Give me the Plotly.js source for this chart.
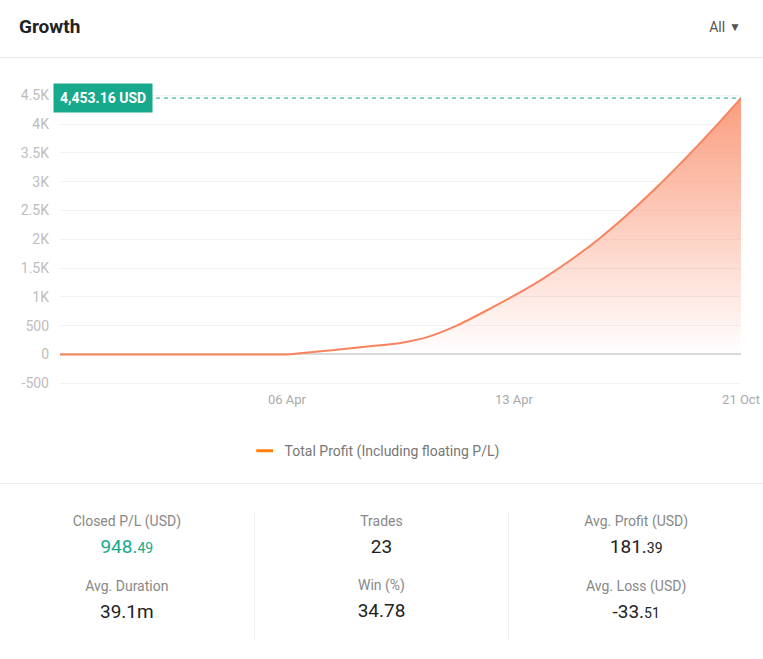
<!DOCTYPE html>
<html>
<head>
<meta charset="utf-8">
<script src="https://cdn.plot.ly/plotly-3.0.1.min.js"></script>
<style>
  body { margin: 0; background: #fff; font-family: Roboto, "Noto Sans", sans-serif; }
  .wrap { width: 763px; height: 659px; position: relative; overflow: hidden; }
  .head { height: 57px; border-bottom: 1px solid #e8e8e8; position: relative; }
  .head h1 { margin: 0; position: absolute; left: 19px; top: 15px; font-size: 19px; font-weight: 700; color: #222; }
  .head .sel { position: absolute; right: 22px; top: 19px; font-size: 14px; color: #555; }
  .head .sel span { font-size: 12px; margin-left: 4px; position: relative; top: -1px; }
  #chart { width: 763px; height: 425px; }
  .stats { border-top: 1px solid #eeeeee; display: flex; padding-top: 28px; }
  .col { width: 254px; text-align: center; border-right: 1px solid #efefef; height: 128px; }
  .col:last-child { border-right: none; }
  .lbl { font-size: 14px; color: #888; line-height: 18px; }
  .val { font-size: 19px; color: #222; line-height: 24px; margin-top: 5px; margin-bottom: 17px; }
  .val small { font-size: 14px; }
  .green { color: #17a98b; }
</style>
</head>
<body>
<div class="wrap">
  <div class="head"><h1>Growth</h1><div class="sel">All<span>&#9660;</span></div></div>
  <div id="chart"></div>
  <div class="stats" id="stats"></div>
</div>
<script>
// one point per step along the x axis, labels shown only at some steps
const pointIdx = [0, 1, 2, 3, 4, 5, 6, 7, 8, 9, 10, 11, 12, 13, 14, 15, 16, 17, 18, 19, 20, 21, 22, 23, 24];
const totalProfit = [0, 0, 0, 0, 0, 0, 0, 0, 0, 45, 95, 145, 200, 310, 505, 755, 1020, 1310, 1640, 2010, 2430, 2890, 3385, 3905, 4453.16];
const xTickVals = [8, 16, 24];
const xTickText = ['06 Apr', '13 Apr', '21 Oct'];
const yTickVals = [-500, 0, 500, 1000, 1500, 2000, 2500, 3000, 3500, 4000, 4500];
const yTickText = ['-500', '0', '500', '1K', '1.5K', '2K', '2.5K', '3K', '3.5K', '4K', '4.5K'];
const seriesName = 'Total Profit (Including floating P/L)';

const statLabels = [['Closed P/L (USD)', 'Avg. Duration'], ['Trades', 'Win (%)'], ['Avg. Profit (USD)', 'Avg. Loss (USD)']];
const statValues = [['948.49', '39.1m'], ['23', '34.78'], ['181.39', '-33.51']];
const smallDecimals = [[true, false], [false, false], [true, true]];

const orange = '#f7845e';
const teal = '#17a98b';
const lastVal = totalProfit[totalProfit.length - 1];
const lastIdx = pointIdx[pointIdx.length - 1];

function fmtMoney(v) {
  return v.toLocaleString('en-US', { minimumFractionDigits: 2, maximumFractionDigits: 2 });
}

var trace1 = {
  x: pointIdx,
  y: totalProfit,
  mode: 'lines',
  type: 'scatter',
  line: { color: orange, width: 2, shape: 'spline', smoothing: 0.6 },
  fill: 'tozeroy',
  fillgradient: {
    type: 'vertical',
    start: 0,
    stop: lastVal,
    colorscale: [[0, 'rgba(250,140,105,0)'], [1, 'rgba(250,140,105,0.85)']]
  },
  showlegend: false,
  hoverinfo: 'skip'
};

// legend-only entry so the swatch is a short bar like the original
var trace2 = {
  x: [null],
  y: [null],
  mode: 'markers',
  type: 'scatter',
  name: seriesName,
  marker: { symbol: 'line-ew-open', size: 12, line: { width: 3, color: orange } },
  showlegend: true
};

var layout = {
  width: 763,
  height: 425,
  margin: { l: 60, r: 22, t: 23, b: 94 },
  paper_bgcolor: '#fff',
  plot_bgcolor: '#fff',
  font: { family: 'Roboto, "Noto Sans", sans-serif', color: '#b5b5b5', size: 13 },
  xaxis: {
    range: [0, lastIdx],
    tickvals: xTickVals,
    ticktext: xTickText,
    showgrid: false,
    zeroline: false,
    showline: false,
    ticks: '',
    ticklabelstandoff: 1,
    tickfont: { color: '#aaaaaa', size: 13 },
    fixedrange: true
  },
  yaxis: {
    range: [-600, 4750],
    tickvals: yTickVals,
    ticktext: yTickText,
    showgrid: true,
    gridcolor: '#f3f3f3',
    zeroline: true,
    zerolinecolor: '#d9d9d9',
    zerolinewidth: 2,
    ticks: '',
    ticklabelstandoff: 10,
    tickfont: { color: '#bdbdbd', size: 14 },
    fixedrange: true
  },
  legend: {
    orientation: 'h',
    x: 0.462,
    xanchor: 'center',
    y: -0.15,
    yanchor: 'top',
    font: { color: '#777', size: 14 }
  },
  shapes: [{
    type: 'line',
    xref: 'x', yref: 'y',
    x0: 0, x1: lastIdx,
    y0: lastVal, y1: lastVal,
    line: { color: teal, width: 1, dash: '4px,4px' }
  }],
  annotations: [{
    xref: 'paper', yref: 'y',
    x: 0, y: lastVal,
    xanchor: 'left', yanchor: 'middle',
    xshift: -7,
    text: '<b>' + fmtMoney(lastVal) + ' USD</b>',
    showarrow: false,
    bgcolor: teal,
    borderpad: 6,
    font: { color: '#fff', size: 14 }
  }]
};

Plotly.newPlot('chart', [trace1, trace2], layout, { displayModeBar: false, staticPlot: true });

function valueHtml(s, small, green) {
  let parts = s.split('.');
  let inner = small ? parts[0] + '.<small>' + parts[1] + '</small>' : s;
  return '<div class="val' + (green ? ' green' : '') + '">' + inner + '</div>';
}

function buildStats() {
  let html = '';
  for (let c = 0; c < statLabels.length; c++) {
    html += '<div class="col">';
    for (let r = 0; r < 2; r++) {
      html += '<div class="lbl">' + statLabels[c][r] + '</div>';
      html += valueHtml(statValues[c][r], smallDecimals[c][r], c === 0 && r === 0);
    }
    html += '</div>';
  }
  document.getElementById('stats').innerHTML = html;
}

buildStats();
</script>
</body>
</html>
